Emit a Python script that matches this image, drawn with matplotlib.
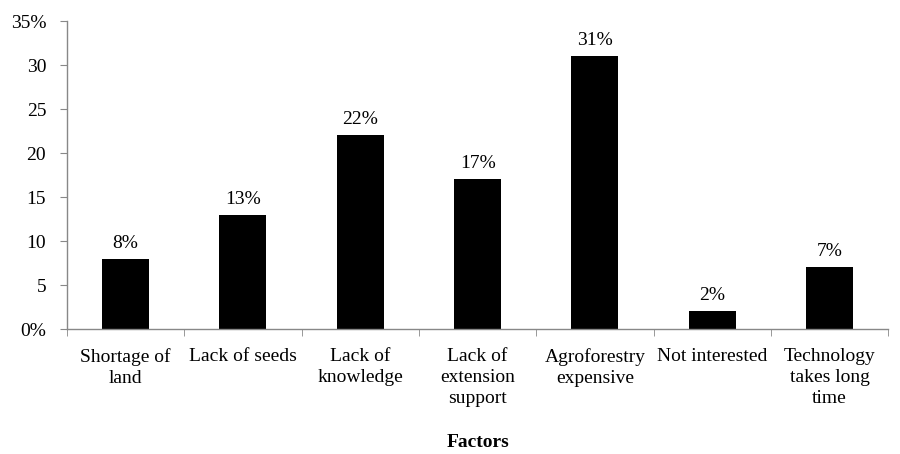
import matplotlib
matplotlib.use("Agg")
import matplotlib.pyplot as plt
import numpy as np

categories = ["Shortage of\nland", "Lack of seeds", "Lack of\nknowledge",
              "Lack of\nextension\nsupport", "Agroforestry\nexpensive",
              "Not interested", "Technology\ntakes long\ntime"]
values = [8, 13, 22, 17, 31, 2, 7]
value_labels = ["8%", "13%", "22%", "17%", "31%", "2%", "7%"]
yticks = [0, 5, 10, 15, 20, 25, 30, 35]
ytick_labels = ["0%", "5", "10", "15", "20", "25", "30", "35%"]

plt.rcParams['font.family'] = ['Liberation Serif', 'DejaVu Serif']
FS = 14

fig = plt.figure(figsize=(9, 4.54), dpi=100)
ax = fig.add_axes([0.0744, 0.2753, 0.9126, 0.6784])

x = np.arange(len(categories))
ax.bar(x, values, width=0.4, color='black')
for xi, v, lab in zip(x, values, value_labels):
    ax.annotate(lab, (xi, v), xytext=(0, 5), textcoords='offset points',
                ha='center', va='bottom', fontsize=FS)

ax.set_xlim(-0.5, len(categories) - 0.5)
ax.set_ylim(0, 35)
ax.set_yticks(yticks)
ax.set_yticklabels(ytick_labels, fontsize=FS)
ax.set_xticks(x)
ax.set_xticklabels(categories, fontsize=FS, linespacing=1.3)
ax.set_xticks(np.arange(len(categories) + 1) - 0.5, minor=True)
ax.tick_params(axis='x', which='major', length=0, pad=14)
ax.tick_params(axis='x', which='minor', length=5, color='#888888', direction='out')
ax.tick_params(axis='y', length=5, color='#888888', pad=10)

for s in ['top', 'right']:
    ax.spines[s].set_visible(False)
for s in ['left', 'bottom']:
    ax.spines[s].set_color('#888888')
    ax.spines[s].set_linewidth(1.0)

ax.set_xlabel("Factors", fontsize=FS, fontweight='bold', labelpad=19)

fig.savefig("out.png", dpi=100)
